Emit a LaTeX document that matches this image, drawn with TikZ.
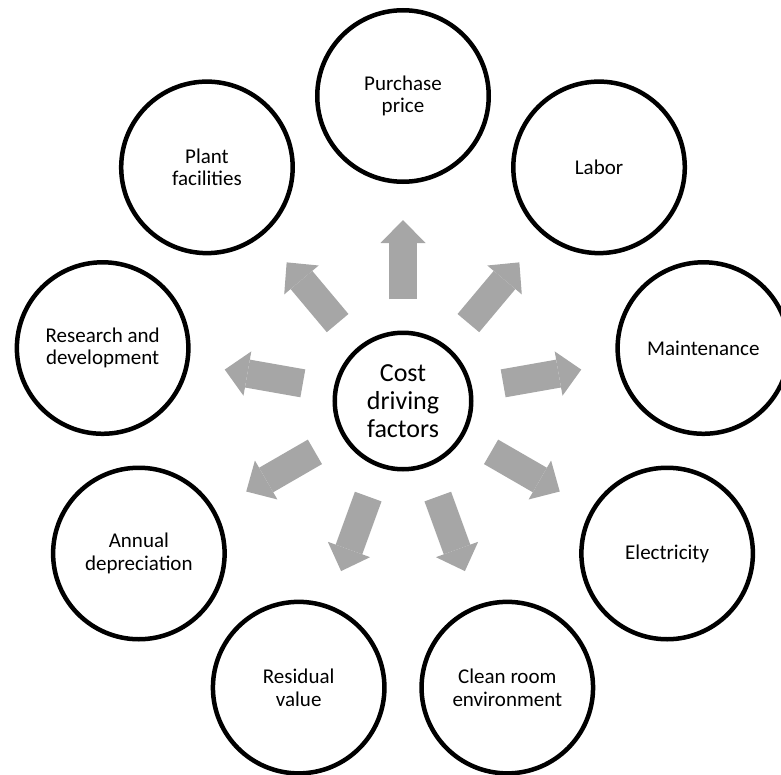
\documentclass[tikz,border=0pt]{standalone}
\usepackage{fontspec}
\setmainfont{Carlito}
\usetikzlibrary{arrows.meta}
\definecolor{spokegray}{RGB}{166,166,166}
\tikzset{
  factor/.style={circle, draw=black, line width=4.5pt, minimum size=171.5pt, inner sep=0pt, align=center, font=\fontsize{21}{22.5}\selectfont},
  hub/.style={circle, draw=black, line width=4.5pt, minimum size=136.5pt, inner sep=0pt, align=center, font=\fontsize{26}{28.3}\selectfont},
  spoke/.style={draw=spokegray, line width=28.3pt, -{Triangle[length=23pt,width=45pt,line width=0pt]}, shorten <=31.2pt, shorten >=36pt}
}
\begin{document}
\begin{tikzpicture}[x=1pt,y=1pt]
\useasboundingbox (-403,-373) rectangle (378,401);
\node[hub] (cost) at (0,0) {Cost\\driving\\factors};
\foreach \a/\n/\t in {90/price/{Purchase\\price}, 50/labor/{Labor}, 10/maint/{Maintenance},
  -30/elec/{Electricity}, -70/clean/{Clean room\\environment}, -110/resid/{Residual\\value},
  -150/depr/{Annual\\depreciation}, 170/rnd/{Research and\\development}, 130/plant/{Plant\\facilities}}
{
\node[factor] (\n) at (\a:305) {\t};
\draw[spoke] (cost) -- (\n);
}
\end{tikzpicture}
\end{document}
